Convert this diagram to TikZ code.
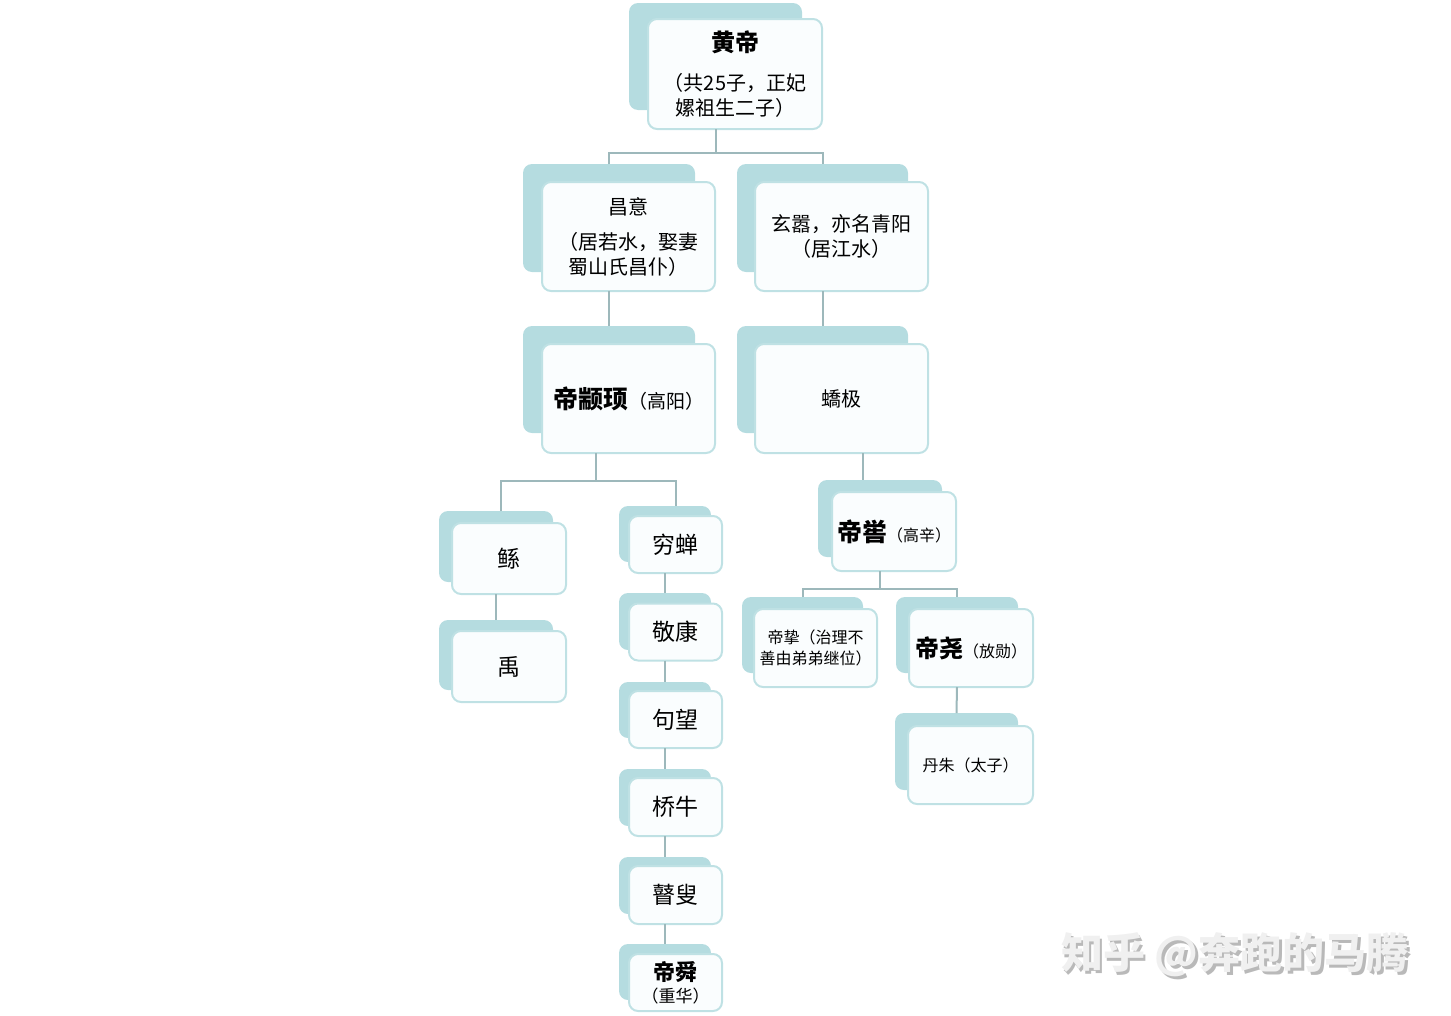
\documentclass[tikz,border=0pt]{standalone}
\usepackage{fontspec}
\newfontfamily\cjk{Noto Sans CJK SC}
\usetikzlibrary{calc}
\definecolor{backc}{HTML}{B5DCE0}
\definecolor{edgec}{HTML}{BFE1E4}
\definecolor{linec}{HTML}{9DB8BB}
\definecolor{frontfill}{HTML}{FAFDFE}
\tikzset{
  backbox/.style={fill=backc, rounded corners=9pt, inner sep=0pt, outer sep=0pt},
  frontbox/.style={fill=frontfill, draw=edgec, line width=2pt, rounded corners=9pt,
    inner sep=0pt, outer sep=0pt, align=center, font=\cjk\fontsize{20}{25}\selectfont},
  conn/.style={draw=linec, line width=2pt},
  wm/.style={font=\cjk\bfseries\fontsize{42}{42}\selectfont, inner sep=0pt},
}
\newcommand\ttl[2]{{\bfseries\fontsize{#1}{#1}\selectfont #2}}
\newcommand\sm[2]{{\fontsize{#1}{#1}\selectfont #2}}
\begin{document}
\begin{tikzpicture}[x=1pt,y=-1pt]
\useasboundingbox (0,0) rectangle (1451,1015);

% back boxes
\node[backbox, minimum width=173, minimum height=107] (huangdi-b) at (715.5,56.5) {};
\node[backbox, minimum width=172, minimum height=108] (changyi-b) at (609,218) {};
\node[backbox, minimum width=171, minimum height=108] (xuanxiao-b) at (822.5,218) {};
\node[backbox, minimum width=172, minimum height=107] (zhuanxu-b) at (609,379.5) {};
\node[backbox, minimum width=171, minimum height=107] (jiaoji-b) at (822.5,379.5) {};
\node[backbox, minimum width=114, minimum height=71] (gun-b) at (496,546.5) {};
\node[backbox, minimum width=114, minimum height=70] (yu-b) at (496,655) {};
\node[backbox, minimum width=92, minimum height=56] (qiongchan-b) at (665,534) {};
\node[backbox, minimum width=92, minimum height=57] (jingkang-b) at (665,621.5) {};
\node[backbox, minimum width=92, minimum height=56] (juwang-b) at (665,710) {};
\node[backbox, minimum width=92, minimum height=57] (qiaoniu-b) at (665,797.5) {};
\node[backbox, minimum width=92, minimum height=57] (gusou-b) at (665,885.5) {};
\node[backbox, minimum width=92, minimum height=56] (shun-b) at (665,972) {};
\node[backbox, minimum width=124, minimum height=77] (ku-b) at (880,518.5) {};
\node[backbox, minimum width=121, minimum height=76] (zhi-b) at (802.5,635) {};
\node[backbox, minimum width=122, minimum height=76] (yao-b) at (957,635) {};
\node[backbox, minimum width=123, minimum height=77] (danzhu-b) at (956.5,751.5) {};

% front boxes
\node[frontbox, minimum width=174, minimum height=110] (huangdi) at (735,74)
  {\ttl{24}{黄帝}\\[14pt]（共25子，正妃\\嫘祖生二子）};
\node[frontbox, minimum width=173, minimum height=109] (changyi) at (628.5,236.5)
  {昌意\\[10pt]（居若水，娶妻\\蜀山氏昌仆）};
\node[frontbox, minimum width=173, minimum height=109] (xuanxiao) at (841.5,236.5)
  {玄嚣，亦名青阳\\（居江水）};
\node[frontbox, minimum width=173, minimum height=109] (zhuanxu) at (628.5,398.5)
  {\ttl{25}{帝颛顼}\sm{19}{（高阳）}};
\node[frontbox, minimum width=173, minimum height=109] (jiaoji) at (841.5,398.5)
  {蟜极};
\node[frontbox, minimum width=114, minimum height=71, font=\cjk\fontsize{23}{25}\selectfont] (gun) at (509,558.5) {鲧};
\node[frontbox, minimum width=114, minimum height=71, font=\cjk\fontsize{23}{25}\selectfont] (yu) at (509,666.5) {禹};
\node[frontbox, minimum width=93, minimum height=57, font=\cjk\fontsize{23}{25}\selectfont] (qiongchan) at (675.5,544.5) {穷蝉};
\node[frontbox, minimum width=93, minimum height=57, font=\cjk\fontsize{23}{25}\selectfont] (jingkang) at (675.5,632) {敬康};
\node[frontbox, minimum width=93, minimum height=57, font=\cjk\fontsize{23}{25}\selectfont] (juwang) at (675.5,719.5) {句望};
\node[frontbox, minimum width=93, minimum height=58, font=\cjk\fontsize{23}{25}\selectfont] (qiaoniu) at (675.5,807) {桥牛};
\node[frontbox, minimum width=93, minimum height=58, font=\cjk\fontsize{23}{25}\selectfont] (gusou) at (675.5,895) {瞽叟};
\node[frontbox, minimum width=93, minimum height=57, font=\cjk\fontsize{17}{20}\selectfont] (shun) at (675.5,982.5)
  {\ttl{22}{帝舜}\\[2pt]（重华）};
\node[frontbox, minimum width=124, minimum height=79] (ku) at (894,531.5)
  {\ttl{25}{帝喾}\sm{16}{（高辛）}};
\node[frontbox, minimum width=123, minimum height=78, font=\cjk\fontsize{16}{21}\selectfont] (zhi) at (815.5,648)
  {帝挚（治理不\\善由弟弟继位）};
\node[frontbox, minimum width=124, minimum height=78] (yao) at (971,648)
  {\ttl{24}{帝尧}\sm{16}{（放勋）}};
\node[frontbox, minimum width=125, minimum height=78, font=\cjk\fontsize{16}{20}\selectfont] (danzhu) at (970.5,765)
  {丹朱（太子）};

% connectors
\coordinate (j1) at (716,153);
\coordinate (j2) at (596,481);
\coordinate (j4) at (880,589);
\draw[conn] (huangdi.south -| j1) -- (j1);
\draw[conn] (changyi-b.north) |- (j1) -| (xuanxiao-b.north);
\draw[conn] (changyi.south -| changyi-b.north) -- (zhuanxu-b.north);
\draw[conn] (xuanxiao.south -| xuanxiao-b.north) -- (jiaoji-b.north);
\draw[conn] (zhuanxu.south -| j2) -- (j2);
\draw[conn] ($(gun-b.north)+(5,0)$) |- (j2) -| ($(qiongchan-b.north)+(11,0)$);
\draw[conn] (gun.south -| gun-b.north) -- (yu-b.north);
\draw[conn] (qiongchan.south -| qiongchan-b.north) -- (jingkang-b.north);
\draw[conn] (jingkang.south -| jingkang-b.north) -- (juwang-b.north);
\draw[conn] (juwang.south -| juwang-b.north) -- (qiaoniu-b.north);
\draw[conn] (qiaoniu.south -| qiaoniu-b.north) -- (gusou-b.north);
\draw[conn] (gusou.south -| gusou-b.north) -- (shun-b.north);
\draw[conn] ($(jiaoji.south)+(21.5,0)$) -- ($(ku-b.north)+(-17,0)$);
\draw[conn] (ku.south -| j4) -- (j4);
\draw[conn] (zhi-b.north) |- (j4) -| (yao-b.north);
\draw[conn] (yao.south -| yao-b.north) -- (danzhu-b.north);

% watermark
\node[wm, text=gray!55] (wm-s) at (1237.5,957.5) {知乎 @奔跑的马腾};
\node[wm, text=gray!12] (wm) at (1235,955) {知乎 @奔跑的马腾};
\end{tikzpicture}
\end{document}
